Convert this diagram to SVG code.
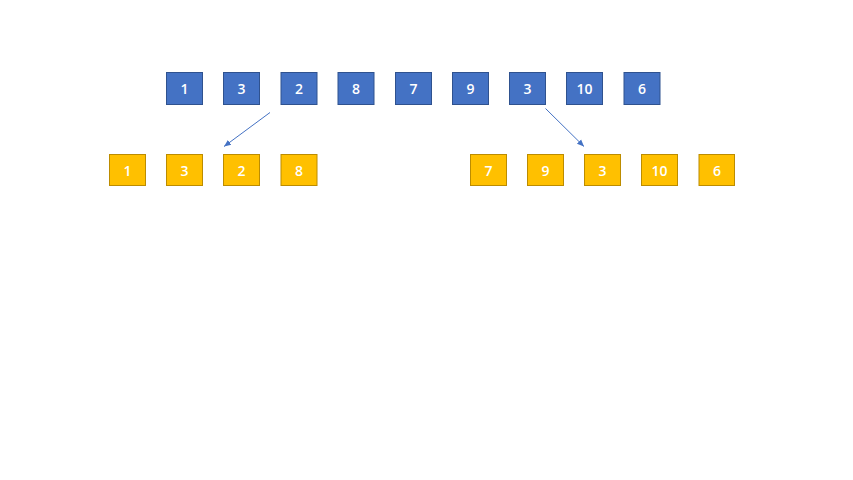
<svg xmlns="http://www.w3.org/2000/svg" width="853" height="480" viewBox="0 0 853 480">
<style>
.b{fill:#4472C4;stroke:#2F528F;stroke-width:1}
.y{fill:#FFC000;stroke:#BC8C00;stroke-width:1}
text{font-family:"Open Sans","Liberation Sans",sans-serif;font-size:14px;font-weight:600;fill:#fff;text-anchor:middle;dominant-baseline:central}
.c{stroke:#4472C4;stroke-width:1;fill:none;marker-end:url(#ah)}
</style>
<defs>
<marker id="ah" markerWidth="8" markerHeight="8" refX="7" refY="4" orient="auto" markerUnits="userSpaceOnUse">
<path d="M0,1 L7,4 L0,7 z" fill="#4472C4"/>
</marker>
</defs>
<rect width="853" height="480" fill="#fff"/>
<g id="top-1"><rect class="b" x="166.5" y="72.5" width="36" height="32"/><text x="184.5" y="88.5">1</text></g>
<g id="top-2"><rect class="b" x="223.5" y="72.5" width="36" height="32"/><text x="241.5" y="88.5">3</text></g>
<g id="top-3"><rect class="b" x="281" y="72.5" width="36" height="32"/><text x="299" y="88.5">2</text></g>
<g id="top-4"><rect class="b" x="338" y="72.5" width="36" height="32"/><text x="356" y="88.5">8</text></g>
<g id="top-5"><rect class="b" x="395.5" y="72.5" width="36" height="32"/><text x="413.5" y="88.5">7</text></g>
<g id="top-6"><rect class="b" x="452.5" y="72.5" width="36" height="32"/><text x="470.5" y="88.5">9</text></g>
<g id="top-7"><rect class="b" x="509.5" y="72.5" width="36" height="32"/><text x="527.5" y="88.5">3</text></g>
<g id="top-8"><rect class="b" x="566.5" y="72.5" width="36" height="32"/><text x="584.5" y="88.5">10</text></g>
<g id="top-9"><rect class="b" x="624" y="72.5" width="36" height="32"/><text x="642" y="88.5">6</text></g>
<g id="left-1"><rect class="y" x="109.5" y="154.5" width="36" height="31"/><text x="127.5" y="170">1</text></g>
<g id="left-2"><rect class="y" x="166.5" y="154.5" width="36" height="31"/><text x="184.5" y="170">3</text></g>
<g id="left-3"><rect class="y" x="223.5" y="154.5" width="36" height="31"/><text x="241.5" y="170">2</text></g>
<g id="left-4"><rect class="y" x="281" y="154.5" width="36" height="31"/><text x="299" y="170">8</text></g>
<g id="right-1"><rect class="y" x="470.5" y="154.5" width="36" height="31"/><text x="488.5" y="170">7</text></g>
<g id="right-2"><rect class="y" x="527.5" y="154.5" width="36" height="31"/><text x="545.5" y="170">9</text></g>
<g id="right-3"><rect class="y" x="584.5" y="154.5" width="36" height="31"/><text x="602.5" y="170">3</text></g>
<g id="right-4"><rect class="y" x="641.5" y="154.5" width="36" height="31"/><text x="659.5" y="170">10</text></g>
<g id="right-5"><rect class="y" x="699" y="154.5" width="35.5" height="31"/><text x="717" y="170">6</text></g>
<g id="connectors">
<line class="c" x1="270" y1="112.5" x2="224" y2="146.5"/>
<line class="c" x1="545.5" y1="108.5" x2="584" y2="146.5"/>
</g>
</svg>
